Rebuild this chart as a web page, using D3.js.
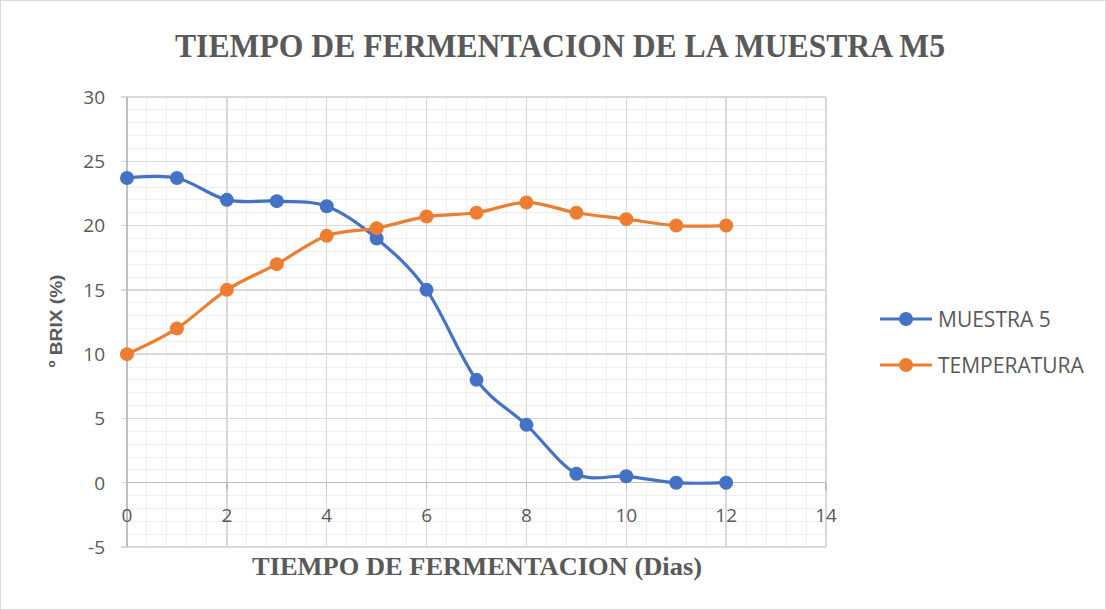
<!DOCTYPE html>
<html><head><meta charset="utf-8">
<script src="https://cdn.jsdelivr.net/npm/d3@7"></script>
<style>body{margin:0;background:#fff}svg{display:block}</style>
</head><body>
<svg id="c" width="1106" height="610"></svg>
<script>
const days = [0,1,2,3,4,5,6,7,8,9,10,11,12];
const muestra5 = [23.7,23.7,22.0,21.9,21.5,19.0,15.0,8.0,4.5,0.7,0.5,0,0];
const temperatura = [10,12,15,17,19.2,19.8,20.7,21.0,21.8,21.0,20.5,20.0,20.0];
const seriesNames = ["MUESTRA 5","TEMPERATURA"];
const seriesColors = ["#4472C4","#ED7D31"];
const xTicks = [0,2,4,6,8,10,12,14];
const yTicks = [-5,0,5,10,15,20,25,30];
const title = "TIEMPO DE FERMENTACION DE LA MUESTRA M5";
const xTitle = "TIEMPO DE FERMENTACION (Dias)";
const yTitle = "º BRIX (%)";

const svg = d3.select("#c");
svg.append("rect").attr("x",0.5).attr("y",0.5).attr("width",1105).attr("height",609)
  .attr("fill","#fff").attr("stroke","#d9d9d9");

const L=127,R=826,T=97,B=547;
const x = d3.scaleLinear().domain([0,14]).range([L,R]);
const y = d3.scaleLinear().domain([-5,30]).range([B,T]);

const g = svg.append("g");
// minor grid
d3.range(0,14.01,0.4).forEach(v=>{
  g.append("line").attr("x1",x(v)).attr("x2",x(v)).attr("y1",T).attr("y2",B)
   .attr("stroke","#efefef").attr("stroke-width",1).attr("shape-rendering","crispEdges");
});
d3.range(-5,30.01,1).forEach(v=>{
  g.append("line").attr("x1",L).attr("x2",R).attr("y1",y(v)).attr("y2",y(v))
   .attr("stroke","#efefef").attr("stroke-width",1).attr("shape-rendering","crispEdges");
});
// major grid
xTicks.forEach(v=>{
  g.append("line").attr("x1",x(v)).attr("x2",x(v)).attr("y1",T).attr("y2",B)
   .attr("stroke","#d9d9d9").attr("stroke-width",1.3).attr("shape-rendering","crispEdges");
});
yTicks.forEach(v=>{
  g.append("line").attr("x1",L-6).attr("x2",R).attr("y1",y(v)).attr("y2",y(v))
   .attr("stroke","#d9d9d9").attr("stroke-width",1.3).attr("shape-rendering","crispEdges");
});
// axis line at y=0 with ticks
g.append("line").attr("x1",L).attr("x2",R).attr("y1",y(0)).attr("y2",y(0))
  .attr("stroke","#bfbfbf").attr("stroke-width",1.3).attr("shape-rendering","crispEdges");
xTicks.forEach(v=>{
  g.append("line").attr("x1",x(v)).attr("x2",x(v)).attr("y1",y(0)).attr("y2",y(0)+7)
   .attr("stroke","#bfbfbf").attr("stroke-width",1.3).attr("shape-rendering","crispEdges");
});
g.append("line").attr("x1",L).attr("x2",L).attr("y1",T).attr("y2",B)
  .attr("stroke","#bfbfbf").attr("stroke-width",1.3).attr("shape-rendering","crispEdges");

// tick labels
const tickFont = "'Open Sans', 'Liberation Sans', sans-serif";
yTicks.forEach(v=>{
  svg.append("text").attr("x",105).attr("y",y(v)).attr("dy","0.36em")
    .attr("text-anchor","end").attr("font-family",tickFont).attr("font-size",19)
    .attr("fill","#595959").text(v);
});
xTicks.forEach(v=>{
  svg.append("text").attr("x",x(v)).attr("y",515).attr("dy","0.36em")
    .attr("text-anchor","middle").attr("font-family",tickFont).attr("font-size",19)
    .attr("fill","#595959").text(v);
});

// lines
const line = d3.line().x((d,i)=>x(days[i])).y(d=>y(d)).curve(d3.curveCardinal.tension(0));
[muestra5,temperatura].forEach((s,k)=>{
  svg.append("path").attr("d",line(s)).attr("fill","none")
    .attr("stroke",seriesColors[k]).attr("stroke-width",3.2).attr("stroke-linecap","round");
  s.forEach((d,i)=>{
    svg.append("circle").attr("cx",x(days[i])).attr("cy",y(d)).attr("r",7)
      .attr("fill",seriesColors[k]);
  });
});

// titles
svg.append("text").attr("x",560).attr("y",57).attr("text-anchor","middle")
  .attr("font-family","'Liberation Serif','Times New Roman',serif").attr("font-weight","bold")
  .attr("font-size",33).attr("fill","#595959")
  .attr("textLength",770).attr("lengthAdjust","spacingAndGlyphs").text(title);
svg.append("text").attr("x",477).attr("y",575).attr("text-anchor","middle")
  .attr("font-family","'Liberation Serif','Times New Roman',serif").attr("font-weight","bold")
  .attr("font-size",26).attr("fill","#595959")
  .attr("textLength",450).attr("lengthAdjust","spacingAndGlyphs").text(xTitle);
svg.append("text").attr("transform","translate(62,321) rotate(-90)").attr("text-anchor","middle")
  .attr("font-family","'Liberation Sans Narrow','Liberation Sans',sans-serif").attr("font-weight","bold")
  .attr("font-size",17).attr("fill","#595959")
  .attr("textLength",93).attr("lengthAdjust","spacingAndGlyphs").text(yTitle);

// legend
seriesNames.forEach((n,k)=>{
  const ly = 319 + k*46;
  svg.append("line").attr("x1",880).attr("x2",932).attr("y1",ly).attr("y2",ly)
    .attr("stroke",seriesColors[k]).attr("stroke-width",3.2);
  svg.append("circle").attr("cx",906).attr("cy",ly).attr("r",7).attr("fill",seriesColors[k]);
  svg.append("text").attr("x",938).attr("y",ly).attr("dy","0.36em")
    .attr("font-family",tickFont).attr("font-size",21).attr("fill","#595959").text(n);
});
</script>
</body></html>
